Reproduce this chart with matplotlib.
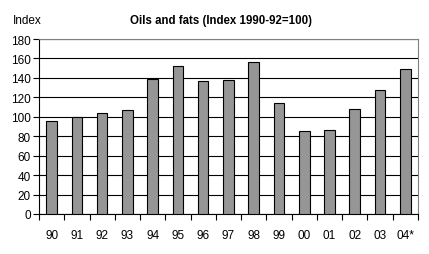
import matplotlib
matplotlib.use("Agg")
from matplotlib import pyplot as plt
import numpy as np

plt.rcParams['font.family'] = ['Liberation Sans', 'DejaVu Sans']

years = ["90", "91", "92", "93", "94", "95", "96", "97", "98", "99", "00", "01", "02", "03", "04*"]
index = [96, 100, 104, 107, 139, 152, 137, 138, 156, 114, 85, 86, 108, 128, 149]

fig = plt.figure(figsize=(4.29, 2.55), dpi=100)
ax = fig.add_axes([0.091, 0.157, 0.883, 0.686])

x = np.arange(len(years))
ax.bar(x, index, width=0.42, color="#969696", edgecolor="black", linewidth=0.8, zorder=3)

ax.set_ylim(0, 180)
ax.set_yticks(range(0, 181, 20))
ax.set_xlim(-0.5, len(years) - 0.5)
ax.set_xticks(x)
ax.set_xticklabels(years)
ax.set_xticks(np.arange(-0.5, len(years), 1), minor=True)
ax.tick_params(axis="x", which="major", length=0, pad=11, labelsize=8.5)
ax.tick_params(axis="x", which="minor", length=4, width=0.8, direction="out")
ax.tick_params(axis="y", length=4, width=0.8, direction="out", labelsize=8.5, pad=2)

ax.yaxis.grid(True, color="black", linewidth=0.8, zorder=0)
ax.set_axisbelow(True)
for side in ["left", "bottom"]:
    ax.spines[side].set_color("black")
    ax.spines[side].set_linewidth(0.8)
for side in ["top", "right"]:
    ax.spines[side].set_color("#808080")
    ax.spines[side].set_linewidth(0.8)

fig.text(0.03, 0.918, "Index", fontsize=8.5, va="center", ha="left")
fig.text(0.515, 0.918, "Oils and fats (Index 1990-92=100)", fontsize=8.3, fontweight="bold", va="center", ha="center")

fig.savefig("out.png", dpi=100)
